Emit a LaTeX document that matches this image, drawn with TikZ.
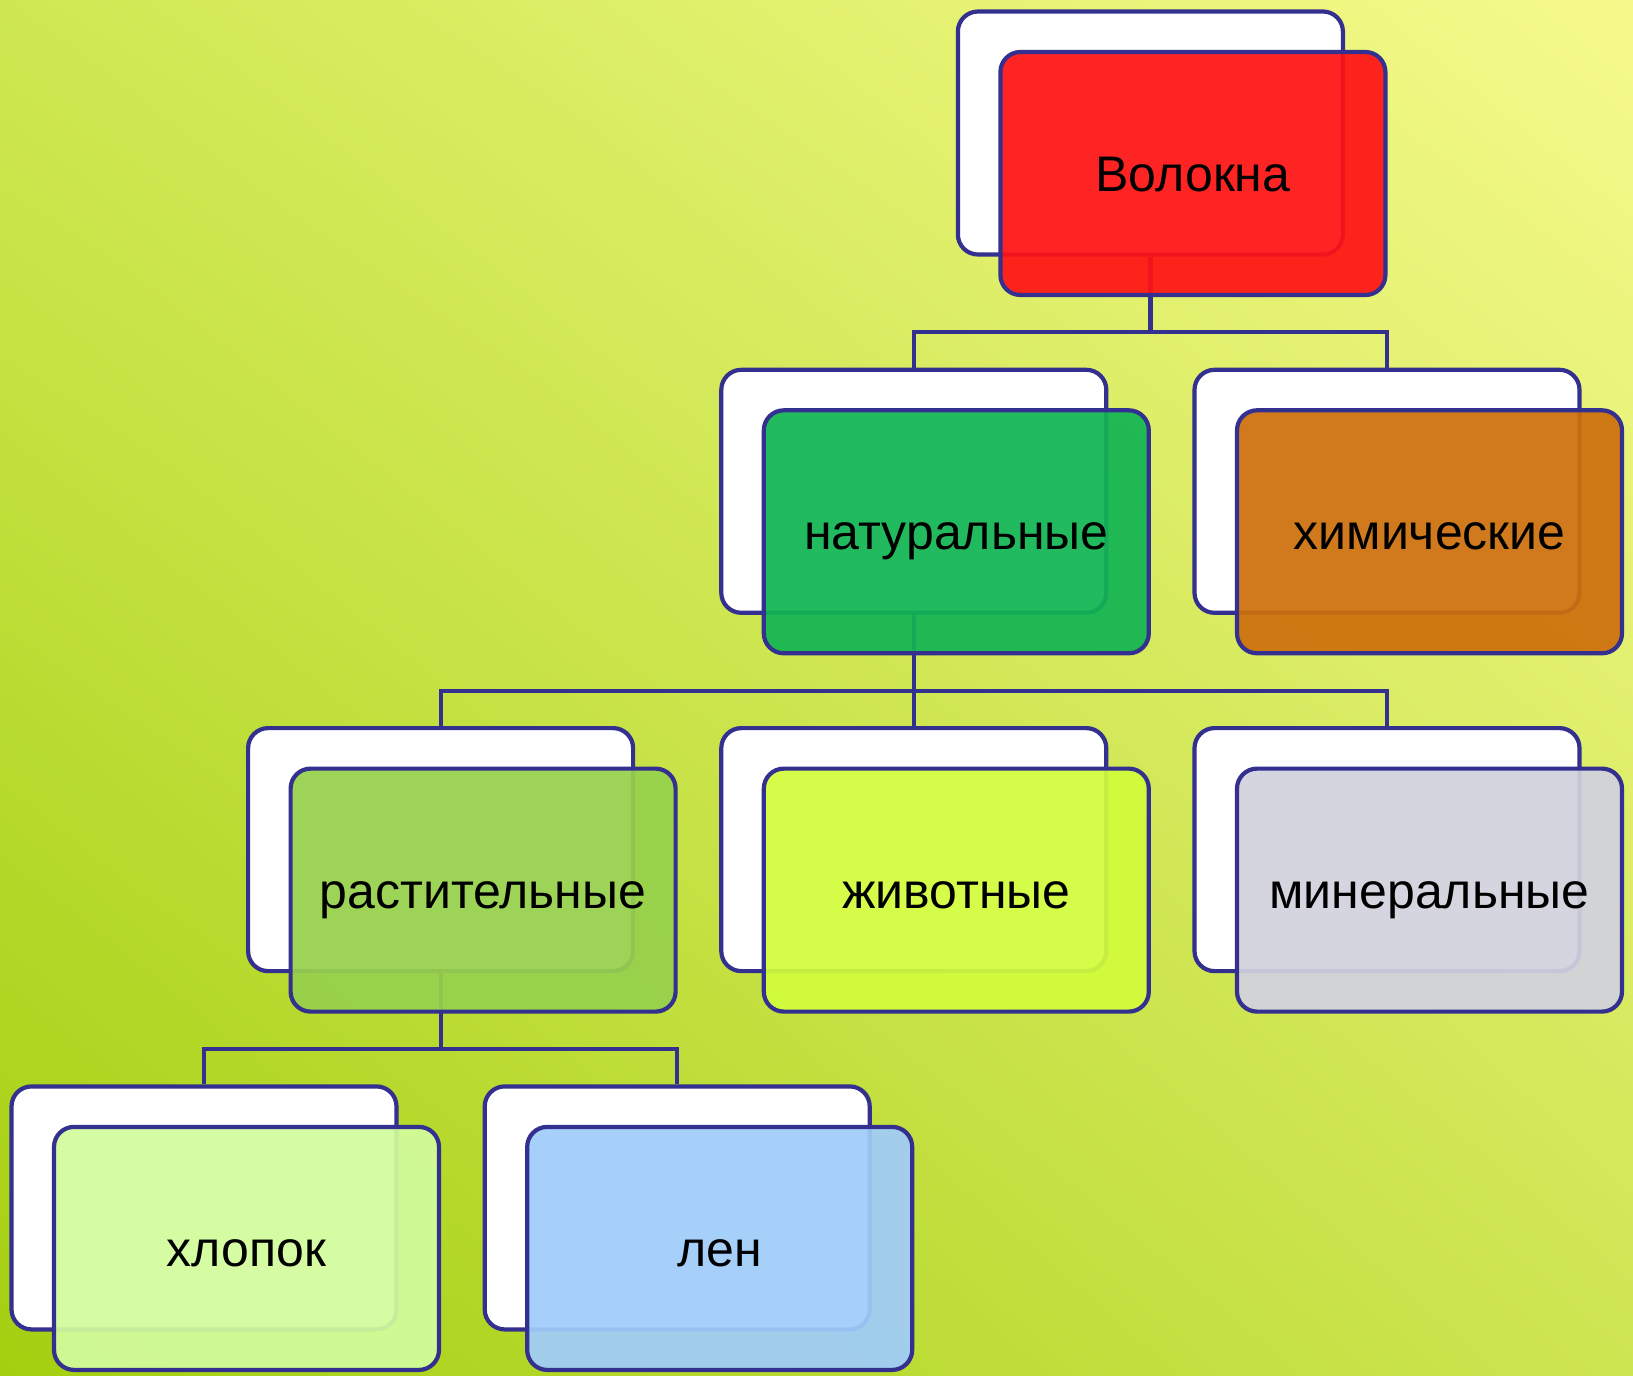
\documentclass[tikz,border=0pt]{standalone}
\usepackage{fontspec}
\setmainfont{Liberation Sans}
\usetikzlibrary{shadings}
\definecolor{bordc}{HTML}{33308F}
\definecolor{bgll}{HTML}{A4CF10}
\definecolor{bgul}{HTML}{CFE852}
\definecolor{bglr}{HTML}{CEE552}
\definecolor{bgur}{HTML}{F6FA8C}
\definecolor{cred}{HTML}{FF1414}
\definecolor{cnat}{HTML}{12B552}
\definecolor{cchem}{HTML}{CD700C}
\definecolor{crast}{HTML}{96D14C}
\definecolor{cziv}{HTML}{D2FC3C}
\definecolor{cmin}{HTML}{D2D2DE}
\definecolor{chlop}{HTML}{D2FC9C}
\definecolor{clen}{HTML}{A0CDFA}
\begin{document}
\begin{tikzpicture}[x=1pt,y=-1pt,
  backbox/.style={draw=bordc, line width=4.2pt, fill=white, rounded corners=20pt,
    minimum width=385pt, minimum height=243pt, inner sep=0pt},
  frontbox/.style={backbox, fill=#1, fill opacity=0.93, text opacity=1,
    font=\fontsize{50}{60}\selectfont, text height=36pt, text depth=0pt},
  conn/.style={draw=bordc, line width=4.2pt}]
\useasboundingbox (0,0) rectangle (1633,1376);
\shade[lower left=bgll, upper left=bgul, lower right=bglr, upper right=bgur]
  (0,0) rectangle (1633,1376);
% back boxes
\node[backbox] (bW) at (1150.4,133) {};
\node[backbox] (bN) at (913.8,491.3) {};
\node[backbox] (bC) at (1387,491.3) {};
\node[backbox] (bR) at (440.6,849.6) {};
\node[backbox] (bZ) at (913.8,849.6) {};
\node[backbox] (bM) at (1387,849.6) {};
\node[backbox] (bH) at (204,1207.9) {};
\node[backbox] (bL) at (677.2,1207.9) {};
% bus coordinates
\coordinate (bus1) at (0,332);
\coordinate (bus2) at (0,691);
\coordinate (bus3) at (0,1049);
% connectors
\draw[conn] (bW.south) -- (bW.south |- bus1) -| (bN.north);
\draw[conn] (bW.south |- bus1) -| (bC.north);
\draw[conn] (bN.south) -- (bN.south |- bus2) -| (bR.north);
\draw[conn] (bN.south |- bus2) -- (bZ.north);
\draw[conn] (bN.south |- bus2) -| (bM.north);
\draw[conn] (bR.south) -- (bR.south |- bus3) -| (bH.north);
\draw[conn] (bR.south |- bus3) -| (bL.north);
% front boxes
\node[frontbox=cred]  (fW) at (1192.9,173.5) {Волокна};
\node[frontbox=cnat]  (fN) at (956.3,531.8) {натуральные};
\node[frontbox=cchem] (fC) at (1429.5,531.8) {химические};
\node[frontbox=crast] (fR) at (483.1,890.1) {растительные};
\node[frontbox=cziv]  (fZ) at (956.3,890.1) {животные};
\node[frontbox=cmin]  (fM) at (1429.5,890.1) {минеральные};
\node[frontbox=chlop] (fH) at (246.5,1248.4) {хлопок};
\node[frontbox=clen]  (fL) at (719.7,1248.4) {лен};
\end{tikzpicture}
\end{document}
